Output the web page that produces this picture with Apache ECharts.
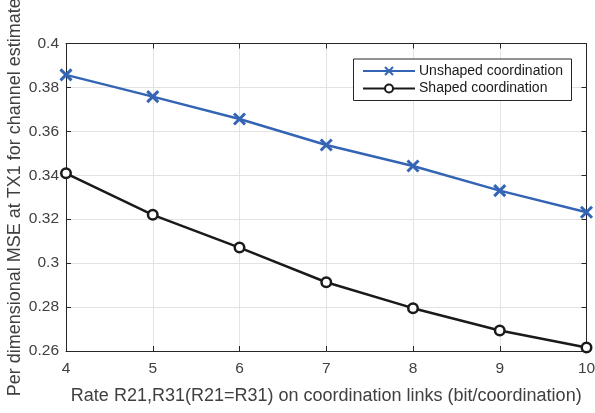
<!DOCTYPE html>
<html><head><meta charset="utf-8">
<script src="https://cdn.jsdelivr.net/npm/echarts@6/dist/echarts.min.js"></script>
<style>html,body{margin:0;padding:0;background:#fff}#c{width:595px;height:413px}</style>
</head><body><div id="c"></div>
<script>
const rates = [4, 5, 6, 7, 8, 9, 10];
const unshaped = [0.3857, 0.3758, 0.3656, 0.3538, 0.3442, 0.3330, 0.3232];
const shaped = [0.3409, 0.3220, 0.3071, 0.2913, 0.2795, 0.2693, 0.2616];
const seriesNames = ['Unshaped coordination', 'Shaped coordination'];
const xTitle = 'Rate R21,R31(R21=R31) on coordination links (bit/coordination)';
const yTitle = 'Per dimensional MSE at TX1 for channel estimate';

const font = 'Liberation Sans, Arial, sans-serif';
const blue = '#3465b5';
const dark = '#1a1a1a';
const axisCol = '#262626';
const labelCol = '#404040';

const chart = echarts.init(document.getElementById('c'), null, {renderer: 'canvas'});
const cross = 'path://M0,0 L10,10 M10,0 L0,10';
chart.setOption({
  animation: false,
  textStyle: {fontFamily: font},
  grid: {left: 66, right: 8.5, top: 43.5, bottom: 62, containLabel: false, outerBoundsMode: 'none'},
  legend: {
    right: 23.5, top: 59,
    orient: 'vertical',
    backgroundColor: '#fff',
    borderColor: '#262626', borderWidth: 1,
    padding: [5, 8.5, 5, 8.5],
    itemGap: 3.5,
    itemWidth: 52, itemHeight: 10,
    textStyle: {fontFamily: font, fontSize: 14, color: '#1a1a1a', padding: [0, 0, 0, -1]},
    data: seriesNames
  },
  xAxis: [{
    type: 'value', min: 4, max: 10, interval: 1,
    name: xTitle, nameLocation: 'middle', nameGap: 36, nameMoveOverlap: false,
    nameTextStyle: {fontSize: 18, color: labelCol, fontFamily: font},
    axisLine: {lineStyle: {color: axisCol, width: 1}},
    axisTick: {inside: true, length: 5, lineStyle: {color: axisCol}},
    axisLabel: {fontSize: 15.5, color: labelCol, margin: 10, fontFamily: font},
    splitLine: {show: true, lineStyle: {color: '#e3e3e3', width: 1}}
  }, {
    type: 'value', min: 4, max: 10, interval: 1, position: 'top',
    axisLine: {show: true, lineStyle: {color: axisCol, width: 1}},
    axisTick: {inside: true, length: 5, lineStyle: {color: axisCol}},
    axisLabel: {show: false}, splitLine: {show: false}
  }],
  yAxis: [{
    type: 'value', min: 0.26, max: 0.4, interval: 0.02,
    name: yTitle, nameLocation: 'middle', nameGap: 42, nameMoveOverlap: false,
    nameTextStyle: {fontSize: 18, color: labelCol, fontFamily: font},
    axisLine: {show: true, lineStyle: {color: axisCol, width: 1}},
    axisTick: {show: true, inside: true, length: 5, lineStyle: {color: axisCol}},
    axisLabel: {fontSize: 15.5, color: labelCol, margin: 7, fontFamily: font,
      formatter: v => String(parseFloat(v.toFixed(2)))},
    splitLine: {show: true, lineStyle: {color: '#e3e3e3', width: 1}}
  }, {
    type: 'value', min: 0.26, max: 0.4, interval: 0.02, position: 'right',
    axisLine: {show: true, lineStyle: {color: axisCol, width: 1}},
    axisTick: {show: true, inside: true, length: 5, lineStyle: {color: axisCol}},
    axisLabel: {show: false}, splitLine: {show: false}
  }],
  series: [{
    name: seriesNames[0], type: 'line',
    data: rates.map((r, i) => [r, unshaped[i]]),
    symbol: cross, symbolSize: 11,
    lineStyle: {color: blue, width: 2.5},
    itemStyle: {color: blue, borderColor: blue, borderWidth: 3},
    z: 3
  }, {
    name: seriesNames[1], type: 'line',
    data: rates.map((r, i) => [r, shaped[i]]),
    symbol: 'circle', symbolSize: 9.5,
    lineStyle: {color: dark, width: 2.5},
    itemStyle: {color: '#fff', borderColor: dark, borderWidth: 2.5},
    z: 3
  }]
});
</script></body></html>
